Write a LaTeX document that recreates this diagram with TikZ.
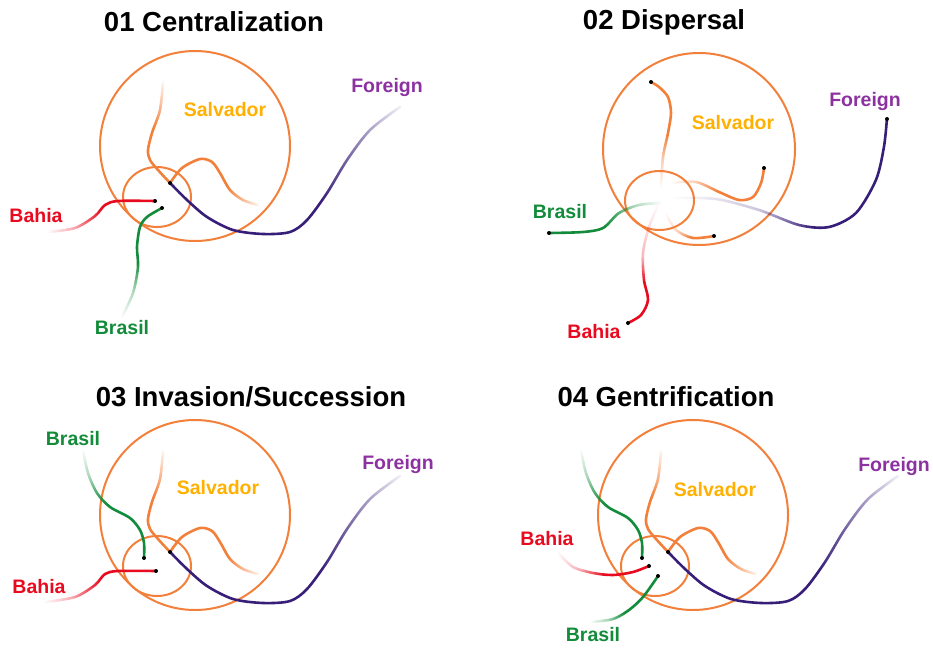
\documentclass[tikz,border=0pt]{standalone}
\usepackage{fontspec}
\setmainfont{Liberation Sans}
\usetikzlibrary{fadings}

\definecolor{ringorange}{RGB}{243,128,58}
\definecolor{salvgold}{RGB}{255,176,0}
\definecolor{forlabel}{RGB}{140,50,160}
\definecolor{forline}{RGB}{55,30,120}
\definecolor{bahred}{RGB}{232,10,30}
\definecolor{brgreen}{RGB}{18,140,58}

% ramps for the fading ends (path runs over 25bp..75bp; W/E/N/S = side that fades out)
\pgfdeclarehorizontalshading{rampW}{100bp}{color(0bp)=(transparent!100); color(25bp)=(transparent!100); color(37.5bp)=(transparent!65); color(50bp)=(transparent!0); color(100bp)=(transparent!0)}
\pgfdeclarehorizontalshading{rampWx}{100bp}{color(0bp)=(transparent!100); color(25bp)=(transparent!100); color(45bp)=(transparent!75); color(57.5bp)=(transparent!0); color(100bp)=(transparent!0)}
\pgfdeclarehorizontalshading{rampE}{100bp}{color(0bp)=(transparent!0); color(50bp)=(transparent!0); color(62.5bp)=(transparent!65); color(75bp)=(transparent!100); color(100bp)=(transparent!100)}
\pgfdeclarehorizontalshading{rampEs}{100bp}{color(0bp)=(transparent!0); color(57.5bp)=(transparent!0); color(67.5bp)=(transparent!55); color(75bp)=(transparent!95); color(100bp)=(transparent!95)}
\pgfdeclareverticalshading{rampS}{100bp}{color(0bp)=(transparent!100); color(25bp)=(transparent!100); color(37.5bp)=(transparent!65); color(50bp)=(transparent!0); color(100bp)=(transparent!0)}
\pgfdeclareverticalshading{rampN}{100bp}{color(0bp)=(transparent!0); color(50bp)=(transparent!0); color(62.5bp)=(transparent!65); color(75bp)=(transparent!100); color(100bp)=(transparent!100)}
\pgfdeclareverticalshading{rampNs}{100bp}{color(0bp)=(transparent!0); color(52.5bp)=(transparent!0); color(65bp)=(transparent!55); color(75bp)=(transparent!95); color(100bp)=(transparent!95)}
\pgfdeclareverticalshading{rampNx}{100bp}{color(0bp)=(transparent!0); color(42.5bp)=(transparent!0); color(52.5bp)=(transparent!70); color(75bp)=(transparent!100); color(100bp)=(transparent!100)}
\pgfdeclarefading{fadeW}{\pgfuseshading{rampW}}
\pgfdeclarefading{fadeWx}{\pgfuseshading{rampWx}}
\pgfdeclarefading{fadeE}{\pgfuseshading{rampE}}
\pgfdeclarefading{fadeEs}{\pgfuseshading{rampEs}}
\pgfdeclarefading{fadeS}{\pgfuseshading{rampS}}
\pgfdeclarefading{fadeN}{\pgfuseshading{rampN}}
\pgfdeclarefading{fadeNs}{\pgfuseshading{rampNs}}
\pgfdeclarefading{fadeNx}{\pgfuseshading{rampNx}}

% circles, orange streams and the foreign stream (same in 01, 03, 04)
\newcommand{\salvadorhub}{%
  \draw[ring] (195,146) circle (95);
  \draw[ring] (157,197) ellipse (34 and 30);
  \coordinate (junction) at (170,183);
  \draw[flow=ringorange, path fading=fadeNs] plot[smooth] coordinates {(163,82) (160,110) (152,133) (148,150) (150,160) (158,170) (junction)};
  \draw[flow=ringorange, path fading=fadeEs] plot[smooth] coordinates {(junction) (182,168) (200,159) (212,162) (220,173) (230,190) (243,200) (258,205)};
  \draw[flow=forline, path fading=fadeEs] plot[smooth] coordinates {(junction) (187,200) (207,217) (233,230) (263,234) (290,232) (307,220) (327,193) (347,160) (370,130) (400,107)};
  \fill[tip] (junction) circle (2);
}

\begin{document}
\begin{tikzpicture}[
    x=1pt, y=-1pt,
    ring/.style={draw=ringorange, line width=2pt},
    flow/.style={draw=#1, line width=2.6pt, line cap=round},
    tip/.style={fill=black},
    title/.style={font=\bfseries\fontsize{27.5}{30}\selectfont},
    lbl/.style={font=\bfseries\fontsize{19.5}{22}\selectfont}
  ]
  \useasboundingbox (0,0) rectangle (933,647);

  % 01 Centralization
  \node[title] (t1) at (214,22) {01 Centralization};
  \salvadorhub
  \node[lbl, text=salvgold] (salv1) at (225,110) {Salvador};
  \node[lbl, text=forlabel] (for1) at (387,88) {Foreign};
  \node[lbl, text=bahred] (bah1) at (36,216) {Bahia};
  \node[lbl, text=brgreen] (bra1) at (122,328) {Brasil};
  \coordinate (bahend1) at (155,201);
  \coordinate (braend1) at (162,208);
  \draw[flow=bahred, path fading=fadeW] plot[smooth] coordinates {(48,232) (75,228) (95,216) (105,205) (118,201) (bahend1)};
  \draw[flow=brgreen, path fading=fadeS] plot[smooth] coordinates {(122,317) (133,293) (138,267) (137,247) (140,227) (147,217) (braend1)};
  \fill[tip] (bahend1) circle (2);
  \fill[tip] (braend1) circle (2);

  % 02 Dispersal
  \node[title] (t2) at (664,22) {02 Dispersal};
  \draw[ring] (699,149) circle (96);
  \draw[ring] (659.5,200.5) ellipse (34.5 and 29.5);
  \node[lbl, text=salvgold] (salv2) at (733,123) {Salvador};
  \node[lbl, text=forlabel] (for2) at (865,102) {Foreign};
  \node[lbl, text=brgreen] (bra2) at (560,212) {Brasil};
  \node[lbl, text=bahred] (bah2) at (594,332) {Bahia};
  \coordinate (upend) at (651,82);
  \coordinate (rightend) at (764,168);
  \coordinate (lowend) at (714,236);
  \coordinate (forend2) at (887,119);
  \coordinate (braend2) at (549,233);
  \coordinate (bahend2) at (628,323);
  \draw[flow=ringorange, path fading=fadeS] plot[smooth] coordinates {(661,187) (663,157) (668,133) (671,113) (668,97) (659,87) (upend)};
  \draw[flow=ringorange, path fading=fadeW] plot[smooth] coordinates {(671,183) (696,182) (719,192) (739,200) (753,197) (761,183) (rightend)};
  \draw[flow=ringorange, path fading=fadeW] plot[smooth] coordinates {(666,214) (676,230) (693,238) (lowend)};
  \draw[flow=forline, path fading=fadeWx] plot[smooth] coordinates {(673,198) (716,199) (759,210) (799,225) (829,227) (856,213) (876,180) (884,147) (forend2)};
  \draw[flow=brgreen, path fading=fadeE] plot[smooth] coordinates {(661,203) (639,205) (619,213) (603,228) (583,232) (braend2)};
  \draw[flow=bahred, path fading=fadeNx] plot[smooth] coordinates {(659,203) (649,227) (643,253) (644,280) (648,300) (641,315) (bahend2)};
  \foreach \p in {upend, rightend, lowend, forend2, braend2, bahend2}
    \fill[tip] (\p) circle (2);

  % 03 Invasion/Succession
  \node[title] (t3) at (251,397) {03 Invasion/Succession};
  \begin{scope}[shift={(0,369)}]
    \salvadorhub
    \node[lbl, text=salvgold] (salv3) at (218,119) {Salvador};
    \node[lbl, text=forlabel] (for3) at (398,95) {Foreign};
    \node[lbl, text=bahred] (bah3) at (39,218) {Bahia};
    \node[lbl, text=brgreen] (bra3) at (73,70) {Brasil};
    \coordinate (bahend3) at (156,202);
    \coordinate (braend3) at (144,189);
    \draw[flow=bahred, path fading=fadeW] plot[smooth] coordinates {(45,233) (75,228) (95,216) (105,205) (118,202) (bahend3)};
    \draw[flow=brgreen, path fading=fadeN] plot[smooth] coordinates {(83,81) (88,104) (97,124) (110,138) (130,149) (140,161) (144,174) (braend3)};
    \fill[tip] (bahend3) circle (2);
    \fill[tip] (braend3) circle (2);
  \end{scope}

  % 04 Gentrification
  \node[title] (t4) at (666,397) {04 Gentrification};
  \begin{scope}[shift={(498,369)}]
    \salvadorhub
    \node[lbl, text=salvgold] (salv4) at (217,121) {Salvador};
    \node[lbl, text=forlabel] (for4) at (396,97) {Foreign};
    \node[lbl, text=bahred] (bah4) at (49,170) {Bahia};
    \node[lbl, text=brgreen] (bra4) at (95,266) {Brasil};
    \coordinate (greenend4) at (144,189);
    \coordinate (bahend4) at (151,197);
    \coordinate (braend4) at (160,207);
    \draw[flow=brgreen, path fading=fadeN] plot[smooth] coordinates {(83,81) (88,104) (97,124) (110,138) (130,149) (140,161) (144,174) (greenend4)};
    \draw[flow=bahred, path fading=fadeW] plot[smooth] coordinates {(60,184) (75,198) (95,204) (115,206) (135,203) (bahend4)};
    \draw[flow=brgreen, path fading=fadeW] plot[smooth] coordinates {(93,253) (115,250) (131,241) (145,228) (braend4)};
    \foreach \p in {greenend4, bahend4, braend4}
      \fill[tip] (\p) circle (2);
  \end{scope}
\end{tikzpicture}
\end{document}
